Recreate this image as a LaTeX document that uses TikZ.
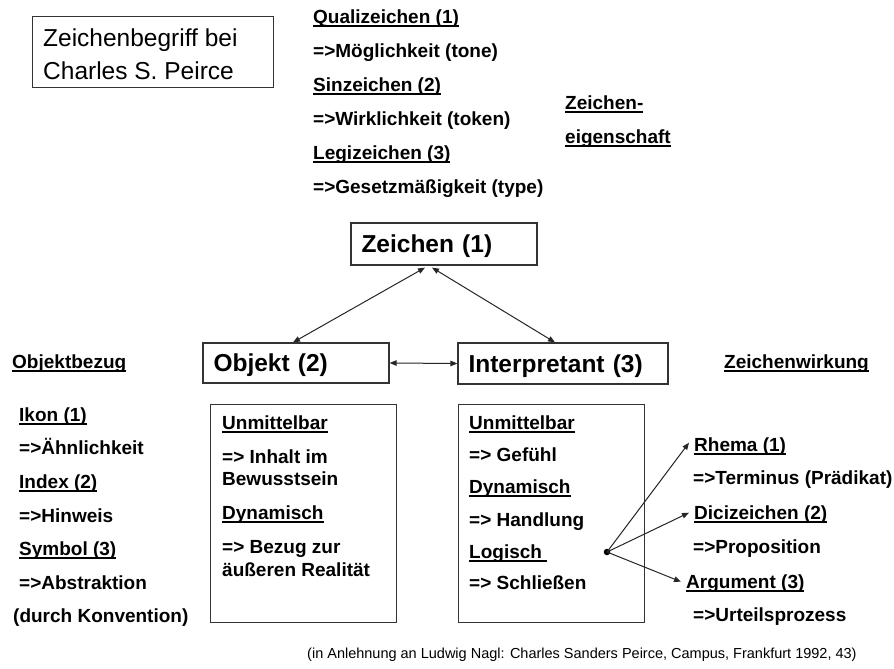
\documentclass[tikz,border=0pt]{standalone}
\usepackage{fontspec}
\setmainfont{Liberation Sans}
\usetikzlibrary{arrows.meta}
\newsavebox\ulbox
\newcommand\ulx[1]{\sbox\ulbox{#1}\rlap{\rule[-3.2pt]{\wd\ulbox}{1.4pt}}\usebox\ulbox}
\tikzset{
  sm/.style={anchor=base west, inner sep=0pt, font=\fontsize{19}{22}\selectfont\bfseries},
  big/.style={draw=black!80, line width=1.2pt, inner xsep=10.5pt, inner ysep=0pt, align=left,
    text height=17.5pt, text depth=0pt, font=\fontsize{24.5}{28}\selectfont\bfseries},
  detbox/.style={draw=black!80, line width=1.2pt, inner sep=0pt, anchor=north west},
  arr/.style={line width=1pt, draw=black!85, -{Triangle[length=7pt,width=5.5pt]}},
  darr/.style={line width=1pt, draw=black!85, {Triangle[length=7pt,width=5.5pt]}-{Triangle[length=7pt,width=5.5pt]}}
}
\begin{document}
\begin{tikzpicture}[x=1pt,y=-1pt]
\useasboundingbox[fill=white] (0,0) rectangle (894,669);

% title
\node[draw=black!80, line width=1.2pt, minimum width=241pt, minimum height=71pt, anchor=north west, inner sep=0pt] (title) at (32,16) {};
\node[anchor=base west, inner sep=0pt, font=\fontsize{24.5}{32}\selectfont] (titleA) at (43,47) {Zeichenbegriff bei};
\node[anchor=base west, inner sep=0pt, font=\fontsize{24.5}{32}\selectfont] (titleB) at (43,79) {Charles S. Peirce};

% top column
\node[sm] (quali) at (313,23.6) {\ulx{Qualizeichen (1)}};
\node[sm] (moegl) at (313,57.6) {=>Möglichkeit (tone)};
\node[sm] (sinz) at (313,91.6) {\ulx{Sinzeichen (2)}};
\node[sm] (wirkl) at (313,125.6) {=>Wirklichkeit (token)};
\node[sm] (legiz) at (313,159.6) {\ulx{Legizeichen (3)}};
\node[sm] (gesetz) at (313,193.6) {=>Gesetzmäßigkeit (type)};
\node[sm] (zeig1) at (565,109.6) {\ulx{Zeichen-}};
\node[sm] (zeig2) at (565,143.6) {\ulx{eigenschaft}};

% main nodes
\node[big, text width=165pt, minimum height=42pt] (zeichen) at (444,244) {Zeichen (1)};
\node[big, text width=165pt, minimum height=40pt] (objekt) at (296,363) {Objekt (2)};
\node[big, text width=189pt, minimum height=41pt] (interp) at (563,363.5) {Interpretant (3)};

\draw[darr] ([xshift=-19pt,yshift=-2pt]zeichen.south) -- ([xshift=-3pt]objekt.north);
\draw[darr] ([xshift=-12pt,yshift=-2pt]zeichen.south) -- ([xshift=-8pt]interp.north);
\draw[darr] (objekt.east) -- (interp.west);

% side headings
\node[sm] (objbez) at (12,368.6) {\ulx{Objektbezug}};
\node[sm] (zwirk) at (724,368.6) {\ulx{Zeichenwirkung}};

% left column
\node[sm] (ikon) at (19,421.6) {\ulx{Ikon (1)}};
\node[sm] (aehnl) at (19,454.6) {=>Ähnlichkeit};
\node[sm] (index) at (19,488.6) {\ulx{Index (2)}};
\node[sm] (hinw) at (19,522.6) {=>Hinweis};
\node[sm] (symb) at (19,555.6) {\ulx{Symbol (3)}};
\node[sm] (abstr) at (19,589.6) {=>Abstraktion};
\node[sm] (konv) at (13,622.6) {(durch Konvention)};

% object details
\node[detbox, minimum width=186pt, minimum height=218pt] (objdet) at (210,404) {};
\node[sm] (o1) at (222,429.6) {\ulx{Unmittelbar}};
\node[sm] (o2) at (222,463.6) {=> Inhalt im};
\node[sm] (o3) at (222,485.6) {Bewusstsein};
\node[sm] (o4) at (222,519.6) {\ulx{Dynamisch}};
\node[sm] (o5) at (222,553.6) {=> Bezug zur};
\node[sm] (o6) at (222,576.6) {äußeren Realität};

% interpretant details
\node[detbox, minimum width=186pt, minimum height=218pt] (intdet) at (458,404) {};
\node[sm] (i1) at (469,429.6) {\ulx{Unmittelbar}};
\node[sm] (i2) at (469,461.6) {=> Gefühl};
\node[sm] (i3) at (469,493.6) {\ulx{Dynamisch}};
\node[sm] (i4) at (469,526.6) {=> Handlung};
\node[sm] (i5) at (469,558.6) {\ulx{Logisch\ }};
\node[sm] (i6) at (469,589.6) {=> Schließen};

% right column
\node[sm] (rhema) at (694,451.6) {\ulx{Rhema (1)}};
\node[sm] (termin) at (693,484.6) {=>Terminus (Prädikat)};
\node[sm] (dici) at (694,519.6) {\ulx{Dicizeichen (2)}};
\node[sm] (propos) at (693,553.6) {=>Proposition};
\node[sm] (argum) at (686,588.6) {\ulx{Argument (3)}};
\node[sm] (urteil) at (693,621.6) {=>Urteilsprozess};

\node[circle, fill=black, inner sep=0pt, minimum size=6.5pt] (dot) at (607,552) {};
\draw[arr] (dot.center) -- ([xshift=-5pt,yshift=4pt]rhema.west);
\draw[arr] (dot.center) -- ([xshift=-5pt,yshift=2pt]dici.west);
\draw[arr] (dot.center) -- ([xshift=-5pt,yshift=2pt]argum.west);

% source
\node[anchor=base west, inner sep=0pt, font=\fontsize{14.5}{16}\selectfont] (src) at (307,658) {(in Anlehnung an Ludwig Nagl: Charles Sanders Peirce, Campus, Frankfurt 1992, 43)};
\end{tikzpicture}
\end{document}
